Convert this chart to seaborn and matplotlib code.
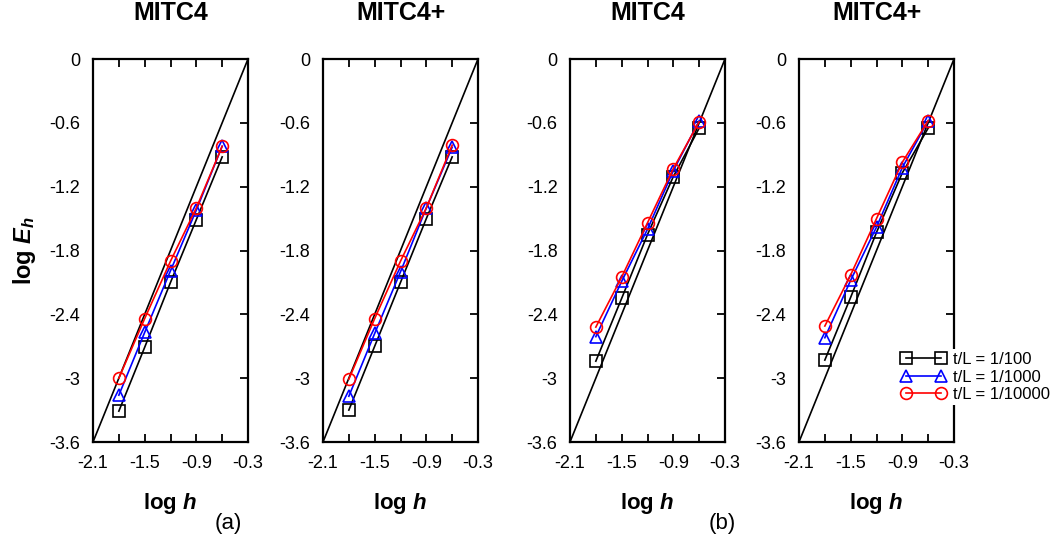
import matplotlib
matplotlib.use("Agg")
import matplotlib.pyplot as plt
import seaborn as sns
import numpy as np
import pandas as pd
from matplotlib.ticker import FixedLocator, FormatStrFormatter

# --- data ---
log_h = [-1.8, -1.5, -1.2, -0.9, -0.6]
ref_x = [-2.1, -0.3]
ref_y = [-3.6, 0.0]

a_mitc4_100 = [-3.31, -2.71, -2.10, -1.51, -0.92]
a_mitc4_1000 = [-3.16, -2.57, -1.99, -1.42, -0.82]
a_mitc4_10000 = [-3.00, -2.44, -1.90, -1.40, -0.82]

a_mitc4p_100 = [-3.30, -2.70, -2.10, -1.50, -0.92]
a_mitc4p_1000 = [-3.17, -2.58, -2.00, -1.40, -0.83]
a_mitc4p_10000 = [-3.01, -2.44, -1.90, -1.40, -0.81]

b_mitc4_100 = [-2.84, -2.25, -1.65, -1.105, -0.65]
b_mitc4_1000 = [-2.61, -2.09, -1.60, -1.05, -0.58]
b_mitc4_10000 = [-2.52, -2.05, -1.54, -1.03, -0.59]

b_mitc4p_100 = [-2.83, -2.24, -1.63, -1.07, -0.65]
b_mitc4p_1000 = [-2.62, -2.08, -1.58, -1.02, -0.58]
b_mitc4p_10000 = [-2.51, -2.03, -1.50, -0.97, -0.58]

titles = ["MITC4", "MITC4+", "MITC4", "MITC4+"]
case_labels = ["t/L = 1/100", "t/L = 1/1000", "t/L = 1/10000"]
case_colors = ["black", "blue", "red"]
case_markers = ["s", "^", "o"]

panels = [
    [a_mitc4_100, a_mitc4_1000, a_mitc4_10000],
    [a_mitc4p_100, a_mitc4p_1000, a_mitc4p_10000],
    [b_mitc4_100, b_mitc4_1000, b_mitc4_10000],
    [b_mitc4p_100, b_mitc4p_1000, b_mitc4p_10000],
]

x_major = [-2.1, -1.5, -0.9, -0.3]
x_minor = [-1.8, -1.2, -0.6]
y_ticks = [0, -0.6, -1.2, -1.8, -2.4, -3.0, -3.6]

plt.rcParams["font.family"] = ["Liberation Sans", "DejaVu Sans"]
plt.rcParams["axes.unicode_minus"] = False
plt.rcParams["mathtext.fontset"] = "custom"
plt.rcParams["mathtext.it"] = "Liberation Sans:italic:bold"
plt.rcParams["mathtext.rm"] = "Liberation Sans:bold"

fig = plt.figure(figsize=(10.56, 5.51), dpi=100)
lefts = [93, 323, 570, 799]
axes = [fig.add_axes([l / 1056, 1 - 442 / 551, 155 / 1056, 383 / 551]) for l in lefts]

for ax, series, title in zip(axes, panels, titles):
    sns.lineplot(x=ref_x, y=ref_y, ax=ax, color="black", lw=1.2)
    for vals, lab, col, mk in zip(series, case_labels, case_colors, case_markers):
        df = pd.DataFrame({"log_h": log_h, "log_E": vals})
        sns.lineplot(data=df, x="log_h", y="log_E", ax=ax, color=col, lw=1.2,
                     marker=mk, markersize=8.5, mfc="none", mec=col, mew=1.2,
                     label=lab, legend=False)
    ax.set_title(title, fontsize=18, fontweight="bold", pad=28)
    ax.set_xlabel(r"log $h$", fontsize=16, fontweight="bold", labelpad=14)
    ax.set_ylabel("")
    for sp in ax.spines.values():
        sp.set_linewidth(1.6)

    ax.set_xlim(-2.1, -0.3)
    ax.set_ylim(-3.6, 0)
    ax.xaxis.set_major_locator(FixedLocator(x_major))
    ax.xaxis.set_minor_locator(FixedLocator(x_minor))
    ax.yaxis.set_major_locator(FixedLocator(y_ticks))
    ax.yaxis.set_major_formatter(FormatStrFormatter("%g"))
    ax.xaxis.set_major_formatter(FormatStrFormatter("%g"))
    ax.tick_params(axis="x", which="both", length=0, colors="black",
                   labelsize=13, pad=9)
    ax.tick_params(axis="y", which="major", length=0, colors="black",
                   labelsize=13, pad=9)

    # inward tick marks on bottom, top and right edges
    xt = x_major + x_minor
    xtrans = ax.get_xaxis_transform()
    ytrans = ax.get_yaxis_transform()
    ax.vlines(xt, 0, 0.021, transform=xtrans, color="black", lw=1.3, clip_on=False, zorder=4)
    ax.vlines(xt, 0.979, 1, transform=xtrans, color="black", lw=1.3, clip_on=False, zorder=4)
    ax.hlines(y_ticks, 0.948, 1, transform=ytrans, color="black", lw=1.3, clip_on=False, zorder=4)

axes[0].set_ylabel(r"log $E_h$", fontsize=17, fontweight="bold", labelpad=8)

handles = axes[3].get_lines()[1:4]
leg = axes[3].legend(handles, case_labels, loc="center left",
                     bbox_to_anchor=(898 / 1056, 1 - 377 / 551),
                     bbox_transform=fig.transFigure, numpoints=2,
                     fontsize=12, handlelength=2.7, handletextpad=0.4,
                     labelspacing=0.15, borderpad=0.2, borderaxespad=0,
                     frameon=True, fancybox=False, framealpha=1,
                     facecolor="white", edgecolor="none")
leg.set_zorder(10)

fig.text(228 / 1056, 1 - 523 / 551, "(a)", fontsize=16, ha="center", va="center")
fig.text(722 / 1056, 1 - 523 / 551, "(b)", fontsize=16, ha="center", va="center")

fig.savefig("out.png", dpi=100)
plt.close(fig)
